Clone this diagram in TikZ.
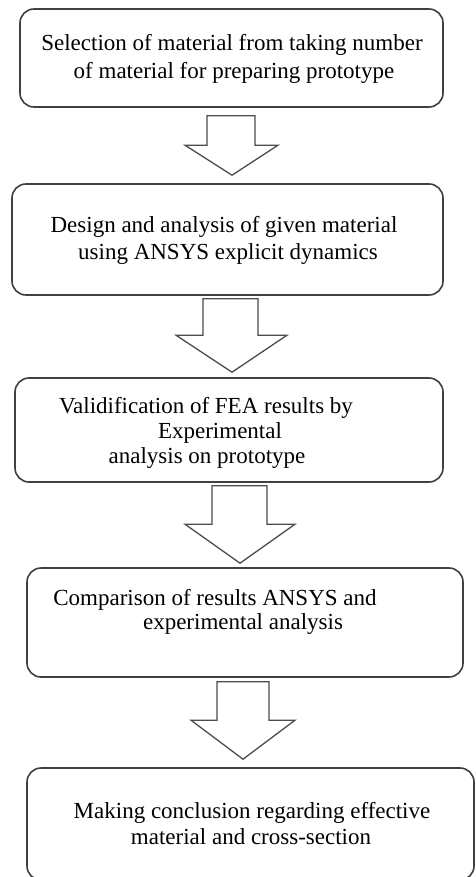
\documentclass[tikz,border=0pt]{standalone}
\usepackage{fontspec}
\setmainfont{Liberation Serif}
\usetikzlibrary{calc}

\begin{document}
\begin{tikzpicture}[x=1pt, y=-1pt,
  stepbox/.style={draw=black!75, line width=1.6pt, rounded corners=14pt,
    fill=white, inner sep=0pt},
  blockarrow/.style={draw=black!70, line width=1.3pt, fill=white,
    line join=miter},
  label/.style={anchor=base, inner sep=0pt,
    font=\fontsize{23}{28}\selectfont}]

% page frame
\useasboundingbox (0,0) rectangle (475,877);
\fill[white] (0,0) rectangle (475,877);

% process boxes
\node[stepbox, minimum width=423pt, minimum height=98pt]  (b1) at (231.5,58)  {};
\node[stepbox, minimum width=431pt, minimum height=111pt] (b2) at (227.5,239.5) {};
\node[stepbox, minimum width=428pt, minimum height=104pt] (b3) at (229,430) {};
\node[stepbox, minimum width=436pt, minimum height=109pt] (b4) at (245,622.5) {};
\node[stepbox, minimum width=447pt, minimum height=112pt] (b5) at (250.5,824) {};

% box texts
\node[label] (t11) at (232,51)  {Selection of material from taking number};
\node[label] (t12) at (234,79)  {of material for preparing prototype};
\node[label] (t21) at (224,233) {Design and analysis of given material};
\node[label] (t22) at (228,259) {using ANSYS explicit dynamics};
\node[label] (t31) at (206,413) {Validification of FEA results by};
\node[label] (t32) at (220,438) {Experimental};
\node[label] (t33) at (207,463) {analysis on prototype};
\node[label] (t41) at (215,605) {Comparison of results ANSYS and};
\node[label] (t42) at (243,629) {experimental analysis};
\node[label] (t51) at (252,818) {Making conclusion regarding effective};
\node[label] (t52) at (251,844) {material and cross-section};

% block arrows between consecutive boxes
\draw[blockarrow] let \p1=(b1.south), \p2=(b2.north) in
  (207pt,\y1-8pt) -- (255pt,\y1-8pt) -- (255pt,\y2+38pt) -- (278pt,\y2+38pt)
  -- (232pt,\y2+8pt) -- (185pt,\y2+38pt) -- (207pt,\y2+38pt) -- cycle;
\draw[blockarrow] let \p1=(b2.south), \p2=(b3.north) in
  (203pt,\y1-3pt) -- (258pt,\y1-3pt) -- (258pt,\y2+42pt) -- (287pt,\y2+42pt)
  -- (232pt,\y2+5pt) -- (176pt,\y2+42pt) -- (203pt,\y2+42pt) -- cycle;
\draw[blockarrow] let \p1=(b3.south), \p2=(b4.north) in
  (212pt,\y1-3pt) -- (267pt,\y1-3pt) -- (267pt,\y2+43pt) -- (295pt,\y2+43pt)
  -- (240pt,\y2+4pt) -- (185pt,\y2+43pt) -- (212pt,\y2+43pt) -- cycle;
\draw[blockarrow] let \p1=(b4.south), \p2=(b5.north) in
  (217pt,\y1-4pt) -- (269pt,\y1-4pt) -- (269pt,\y2+47pt) -- (295pt,\y2+47pt)
  -- (243pt,\y2+8pt) -- (191pt,\y2+47pt) -- (217pt,\y2+47pt) -- cycle;

\end{tikzpicture}
\end{document}
